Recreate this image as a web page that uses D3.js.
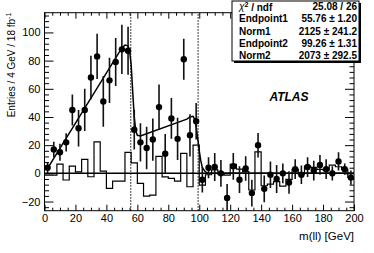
<!DOCTYPE html>
<html>
<head>
<meta charset="utf-8">
<script src="https://cdn.jsdelivr.net/npm/d3@7"></script>
<style>
  body { margin: 0; background: #fff; }
  svg { display: block; font-family: "Liberation Sans", Arial, Helvetica, sans-serif; }
  .tick text { font-size: 11px; fill: #000; }
  .tick line { stroke: #000; }
</style>
</head>
<body>
<svg id="chart" width="374" height="253"></svg>
<script>
// bin centres (4 GeV bins)
const binCenters = [2, 6, 10, 14, 18, 22, 26, 30, 34, 38, 42, 46, 50, 54, 58, 62, 66, 70, 74, 78,
    82, 86, 90, 94, 98, 102, 106, 110, 114, 118, 122, 126, 130, 134, 138, 142, 146, 150, 154, 158,
    162, 166, 170, 174, 178, 182, 186, 190, 194, 198]
// flavour-subtracted data
const dataValues = [4, 17, 15, 22, 45, 32, 45, 68, 83, 51, 66, 79, 88, 87, 31, 22, 18, 24, 47, 14,
    39, 24.5, 81, 27, 37, -4.5, 4, 4.5, 0, -17.5, 5, -4.5, 3.5, -14, 20, -11, -1, -4, 0, -6.5,
    3, -1, 4.5, 2, 6, 3, 0, 8.5, 3, -3]
const dataErrors = [4, 5.5, 6, 6.5, 11, 13, 15, 15.5, 16, 18, 16, 17, 17.5, 17, 14, 13.5, 15, 15, 16, 14,
    14.5, 15, 14.5, 15, 13, 9, 7.5, 10, 9.5, 10, 9.5, 9.5, 8.7, 9.5, 8.7, 9.5, 9.4, 10, 7, 8,
    7, 6.5, 7, 7, 7, 7, 5, 6.5, 4, 5]
// outline histogram (one value per bin)
const histValues = [-1.3, -1.3, 6.6, -4.7, 5.2, 1.1, 9.9, -2.4, 22.4, 1.6, -10.6, -5.5, -5.5, 14.9, 7.5, -7.1, -16.1, -15.4, 12, -2.5,
    -3.5, -5.5, 14.2, -9.5, 20, -8.3, -1, 2.4, -0.5, -1.2, 6.4, 3, 1.2, -11.8, 15.3, -8.8, -7.6, -5.9, -9, -4.3,
    2.8, -0.5, 5.2, 4.3, 2.8, 2.3, 5.9, 4.7, 2.8, -2.8]
// fitted curve
const fitX = [2, 50, 52, 54, 55, 56, 57, 58, 59, 60, 62, 92, 94, 96, 97, 98, 99, 100, 101, 102, 104, 106, 200]
const fitY = [3.6, 89, 91, 90.5, 87, 77, 58, 40, 30, 27, 26.5, 38.5, 40, 40.5, 38.5, 33, 25, 16, 9, 4, 1, 0, 0]

const endpoints = [55.76, 99.26]
const xTicks = [0, 20, 40, 60, 80, 100, 120, 140, 160, 180, 200]
const yTicks = [-20, 0, 20, 40, 60, 80, 100]
const statLabels = ["Endpoint1", "Norm1", "Endpoint2", "Norm2"]
const statValues = ["55.76 \u00b1 1.20", "2125 \u00b1 241.2", "99.26 \u00b1 1.31", "2073 \u00b1 292.5"]

const frame = {left: 44.5, right: 354, top: 12.7, bottom: 210.7}

const svg = d3.select("#chart")

const x = d3.scaleLinear().domain([0, 200]).range([frame.left, frame.right])
const y = d3.scaleLinear().domain([-26.5, 114]).range([frame.bottom, frame.top])

// minor ticks
const xMinor = d3.range(0, 201, 5).filter(v => v % 20 != 0)
const yMinor = d3.range(-24, 114, 4).filter(v => v % 20 != 0)

svg.append("g")
    .attr("transform", "translate(0," + frame.bottom + ")")
    .call(d3.axisBottom(x).tickValues(xTicks).tickSize(-6).tickPadding(4))
svg.append("g")
    .attr("transform", "translate(0," + frame.bottom + ")")
    .call(d3.axisBottom(x).tickValues(xMinor).tickSize(-3).tickFormat(""))
svg.append("g")
    .attr("transform", "translate(0," + frame.top + ")")
    .call(d3.axisTop(x).tickValues(xTicks).tickSize(-6).tickFormat(""))
svg.append("g")
    .attr("transform", "translate(0," + frame.top + ")")
    .call(d3.axisTop(x).tickValues(xMinor).tickSize(-3).tickFormat(""))

svg.append("g")
    .attr("transform", "translate(" + frame.left + ",0)")
    .call(d3.axisLeft(y).tickValues(yTicks).tickSize(-9).tickPadding(4))
svg.append("g")
    .attr("transform", "translate(" + frame.left + ",0)")
    .call(d3.axisLeft(y).tickValues(yMinor).tickSize(-4.5).tickFormat(""))
svg.append("g")
    .attr("transform", "translate(" + frame.right + ",0)")
    .call(d3.axisRight(y).tickValues(yTicks).tickSize(-9).tickFormat(""))
svg.append("g")
    .attr("transform", "translate(" + frame.right + ",0)")
    .call(d3.axisRight(y).tickValues(yMinor).tickSize(-4.5).tickFormat(""))

svg.selectAll(".domain").remove()

svg.append("rect")
    .attr("x", frame.left)
    .attr("y", frame.top)
    .attr("width", frame.right - frame.left)
    .attr("height", frame.bottom - frame.top)
    .attr("fill", "none")
    .attr("stroke", "#000")
    .attr("stroke-width", 1)

// histogram outline
const steps = []
histValues.forEach((v, i) => {
    steps.push([binCenters[i] - 2, v])
    steps.push([binCenters[i] + 2, v])
})
svg.append("path")
    .datum(steps)
    .attr("fill", "none")
    .attr("stroke", "#000")
    .attr("stroke-width", 1.2)
    .attr("d", d3.line().x(d => x(d[0])).y(d => y(d[1])))

// zero line
svg.append("line")
    .attr("x1", x(0)).attr("x2", x(200))
    .attr("y1", y(0)).attr("y2", y(0))
    .attr("stroke", "#000")
    .attr("stroke-width", 1.5)

// endpoints
endpoints.forEach(e => {
    svg.append("line")
        .attr("x1", x(e)).attr("x2", x(e))
        .attr("y1", frame.bottom).attr("y2", frame.top)
        .attr("stroke", "#000")
        .attr("stroke-width", 1)
        .attr("stroke-dasharray", "1.5,1.5")
})

// fit
svg.append("path")
    .datum(fitX.map((v, i) => [v, fitY[i]]))
    .attr("fill", "none")
    .attr("stroke", "#000")
    .attr("stroke-width", 1.5)
    .attr("d", d3.line().x(d => x(d[0])).y(d => y(d[1])))

// data points with error bars, clipped to the frame
svg.append("clipPath").attr("id", "clip")
    .append("rect")
    .attr("x", frame.left).attr("y", frame.top)
    .attr("width", frame.right - frame.left).attr("height", frame.bottom - frame.top)

const pts = svg.append("g").attr("clip-path", "url(#clip)")
pts.selectAll("line.err")
    .data(binCenters)
    .join("line")
    .attr("class", "err")
    .attr("x1", d => x(d)).attr("x2", d => x(d))
    .attr("y1", (d, i) => y(dataValues[i] - dataErrors[i]))
    .attr("y2", (d, i) => y(dataValues[i] + dataErrors[i]))
    .attr("stroke", "#111")
    .attr("stroke-width", 1.6)
pts.selectAll("circle")
    .data(binCenters)
    .join("circle")
    .attr("cx", d => x(d))
    .attr("cy", (d, i) => y(dataValues[i]))
    .attr("r", 3.2)
    .attr("fill", "#000")

// axis titles
svg.append("text")
    .attr("transform", "translate(11," + frame.top + ") rotate(-90)")
    .attr("text-anchor", "end")
    .attr("dy", "0.35em")
    .style("font-size", "10px")
    .text("Entries / 4 GeV / 18 fb")
    .append("tspan")
    .attr("dy", "-0.45em")
    .style("font-size", "7px")
    .text("-1")

svg.append("text")
    .attr("x", frame.right)
    .attr("y", 240)
    .attr("text-anchor", "end")
    .style("font-size", "11.5px")
    .text("m(ll) [GeV]")

svg.append("text")
    .attr("x", 289)
    .attr("y", 101)
    .attr("text-anchor", "middle")
    .style("font-size", "12px")
    .style("font-weight", "bold")
    .style("font-style", "italic")
    .text("ATLAS")

// stats box
const box = {x: 232, y: 1, w: 127, h: 60}
svg.append("rect")
    .attr("x", box.x + 2).attr("y", box.y + 2)
    .attr("width", box.w).attr("height", box.h)
    .attr("fill", "#000")
svg.append("rect")
    .attr("x", box.x).attr("y", box.y)
    .attr("width", box.w).attr("height", box.h)
    .attr("fill", "#fff")
    .attr("stroke", "#000")
    .attr("stroke-width", 1)

const rowY = [9.8, 22.6, 35.6, 47.6, 60]
const chi = svg.append("text")
    .attr("x", 239).attr("y", rowY[0])
    .style("font-size", "10px").style("font-weight", "bold")
chi.append("tspan").style("font-style", "italic").style("font-weight", "normal").text("\u03c7")
chi.append("tspan").attr("dy", "-0.4em").style("font-size", "7px").text("2")
chi.append("tspan").attr("dy", "0.4em").text(" / ndf")
svg.append("text")
    .attr("x", 357).attr("y", rowY[0])
    .attr("text-anchor", "end")
    .style("font-size", "10px").style("font-weight", "bold")
    .text("25.08 / 26")

statLabels.forEach((l, i) => {
    svg.append("text")
        .attr("x", 239).attr("y", rowY[i + 1] - 1)
        .style("font-size", "10px").style("font-weight", "bold")
        .text(l)
    svg.append("text")
        .attr("x", 357).attr("y", rowY[i + 1] - 1)
        .attr("text-anchor", "end")
        .style("font-size", "10px").style("font-weight", "bold")
        .text(statValues[i])
})
</script>
</body>
</html>
